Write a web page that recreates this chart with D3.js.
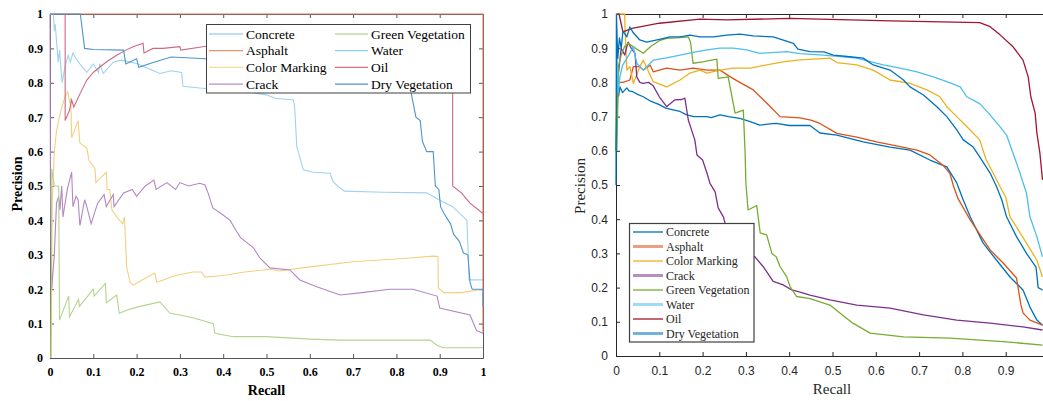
<!DOCTYPE html>
<html><head><meta charset="utf-8">
<script src="https://cdn.jsdelivr.net/npm/d3@7"></script>
<style>body{margin:0;background:#fff}svg{display:block}</style>
</head><body>
<svg id="c" width="1043" height="401"></svg>
<script>
// ---------- shared data ----------
const categories = ["Concrete","Asphalt","Color Marking","Crack","Green Vegetation","Water","Oil","Dry Vegetation"];
const xTicksLeft = [0,0.1,0.2,0.3,0.4,0.5,0.6,0.7,0.8,0.9,1];
const yTicksLeft = [0,0.1,0.2,0.3,0.4,0.5,0.6,0.7,0.8,0.9,1];
const xTicksRight = [0,0.1,0.2,0.3,0.4,0.5,0.6,0.7,0.8,0.9];
const yTicksRight = [0,0.1,0.2,0.3,0.4,0.5,0.6,0.7,0.8,0.9,1];

// ---------- left panel series: [recall, precision] ----------
const leftConcrete = [[0.008,1],[0.01,0.95],[0.012,0.97],[0.019,0.86],[0.022,0.895],[0.028,0.8],[0.035,0.85],[0.042,0.88],[0.047,0.86],[0.053,0.887],[0.06,0.87],[0.069,0.855],[0.085,0.83],[0.1,0.855],[0.112,0.83],[0.115,0.855],[0.123,0.827],[0.146,0.86],[0.165,0.866],[0.2,0.856],[0.23,0.84],[0.254,0.827],[0.28,0.835],[0.304,0.83],[0.307,0.79],[0.346,0.785],[0.4,0.78],[0.45,0.775],[0.5,0.765],[0.52,0.755],[0.562,0.75],[0.565,0.73],[0.57,0.614],[0.585,0.547],[0.608,0.54],[0.647,0.537],[0.654,0.512],[0.67,0.494],[0.68,0.485],[0.77,0.482],[0.87,0.48],[0.898,0.46],[0.93,0.44],[0.963,0.4],[0.968,0.227],[1,0.227]];
const leftAsphalt = [[0,1],[1,1],[1,0.075]];
const leftColorMarking = [[0.003,0],[0.005,0.45],[0.01,0.6],[0.015,0.66],[0.025,0.72],[0.035,0.76],[0.041,0.774],[0.046,0.74],[0.048,0.755],[0.05,0.64],[0.065,0.69],[0.069,0.625],[0.085,0.61],[0.09,0.575],[0.104,0.55],[0.106,0.51],[0.13,0.54],[0.132,0.49],[0.138,0.49],[0.143,0.43],[0.157,0.405],[0.168,0.39],[0.172,0.41],[0.177,0.265],[0.185,0.22],[0.192,0.212],[0.242,0.247],[0.247,0.22],[0.29,0.24],[0.33,0.25],[0.35,0.25],[0.358,0.235],[0.4,0.24],[0.45,0.25],[0.508,0.258],[0.53,0.253],[0.6,0.265],[0.7,0.28],[0.824,0.29],[0.885,0.296],[0.896,0.295],[0.897,0.203],[0.91,0.19],[0.95,0.19],[1,0.2]];
const leftCrack = [[0,1],[0.001,0.5],[0.004,0.2],[0.01,0.3],[0.015,0.45],[0.02,0.47],[0.023,0.43],[0.027,0.5],[0.03,0.41],[0.04,0.49],[0.05,0.54],[0.053,0.44],[0.06,0.47],[0.065,0.46],[0.069,0.385],[0.08,0.46],[0.085,0.44],[0.095,0.39],[0.11,0.45],[0.125,0.475],[0.13,0.44],[0.146,0.475],[0.148,0.44],[0.17,0.48],[0.19,0.49],[0.2,0.47],[0.22,0.5],[0.24,0.517],[0.245,0.49],[0.27,0.51],[0.29,0.49],[0.3,0.51],[0.32,0.5],[0.346,0.508],[0.358,0.503],[0.365,0.48],[0.376,0.436],[0.395,0.42],[0.416,0.4],[0.43,0.37],[0.44,0.35],[0.47,0.32],[0.485,0.29],[0.508,0.262],[0.554,0.256],[0.577,0.227],[0.616,0.207],[0.67,0.183],[0.72,0.19],[0.785,0.2],[0.838,0.2],[0.894,0.18],[0.9,0.145],[0.97,0.125],[0.985,0.08],[1,0.072]];
const leftGreenVegetation = [[0.002,0],[0.004,0.55],[0.01,0.5],[0.02,0.5],[0.022,0.11],[0.043,0.18],[0.045,0.12],[0.066,0.17],[0.068,0.15],[0.1,0.2],[0.102,0.18],[0.128,0.217],[0.13,0.16],[0.154,0.183],[0.16,0.13],[0.18,0.14],[0.208,0.15],[0.254,0.163],[0.277,0.13],[0.3,0.125],[0.33,0.117],[0.377,0.1],[0.381,0.072],[0.423,0.062],[0.5,0.062],[0.6,0.055],[0.67,0.052],[0.878,0.052],[0.894,0.037],[0.908,0.03],[1,0.03]];
const leftWater = [[0,1],[0.008,1]];
const leftOil = [[0.035,1],[0.035,0.69],[0.045,0.72],[0.05,0.75],[0.055,0.73],[0.07,0.77],[0.085,0.808],[0.1,0.83],[0.115,0.846],[0.135,0.865],[0.154,0.88],[0.175,0.895],[0.192,0.905],[0.215,0.915],[0.217,0.887],[0.238,0.9],[0.261,0.9],[0.3,0.905],[0.302,0.895],[0.353,0.905],[0.4,0.91],[0.6,0.91],[0.8,0.905],[0.93,0.9],[0.93,0.5],[0.95,0.48],[0.97,0.45],[1,0.42]];
const leftDryVegetation = [[0,1],[0.07,1],[0.08,0.9],[0.1,0.897],[0.17,0.895],[0.175,0.855],[0.2,0.87],[0.205,0.845],[0.24,0.86],[0.28,0.875],[0.36,0.87],[0.5,0.87],[0.7,0.87],[0.8,0.86],[0.825,0.84],[0.835,0.765],[0.845,0.7],[0.855,0.69],[0.86,0.63],[0.87,0.6],[0.885,0.6],[0.89,0.5],[0.898,0.49],[0.902,0.44],[0.91,0.42],[0.925,0.39],[0.932,0.36],[0.945,0.34],[0.955,0.305],[0.965,0.3],[0.97,0.22],[0.975,0.2],[1,0.2],[1,0.15]];

// ---------- right panel series ----------
const rightConcrete = [[0,0.6],[0.003,0.82],[0.006,0.76],[0.009,0.787],[0.015,0.77],[0.025,0.784],[0.03,0.775],[0.04,0.772],[0.05,0.765],[0.063,0.758],[0.08,0.745],[0.1,0.735],[0.115,0.725],[0.132,0.72],[0.148,0.715],[0.163,0.705],[0.18,0.7],[0.194,0.7],[0.21,0.7],[0.22,0.697],[0.24,0.705],[0.26,0.7],[0.286,0.695],[0.31,0.685],[0.332,0.675],[0.35,0.678],[0.37,0.68],[0.4,0.674],[0.448,0.674],[0.471,0.652],[0.51,0.646],[0.571,0.626],[0.633,0.611],[0.679,0.602],[0.725,0.573],[0.764,0.553],[0.787,0.506],[0.802,0.456],[0.818,0.407],[0.848,0.33],[0.879,0.28],[0.91,0.231],[0.94,0.193],[0.956,0.143],[0.972,0.105],[0.985,0.09]];
const rightAsphalt = [[0.001,0.69],[0.003,0.72],[0.005,0.8],[0.016,0.8],[0.032,0.807],[0.04,0.846],[0.055,0.846],[0.063,0.836],[0.079,0.85],[0.086,0.831],[0.1,0.836],[0.117,0.842],[0.148,0.836],[0.178,0.842],[0.21,0.836],[0.24,0.836],[0.263,0.817],[0.286,0.8],[0.317,0.778],[0.348,0.74],[0.379,0.7],[0.425,0.696],[0.45,0.69],[0.471,0.68],[0.51,0.651],[0.556,0.64],[0.602,0.626],[0.656,0.612],[0.695,0.602],[0.725,0.588],[0.755,0.558],[0.771,0.534],[0.78,0.495],[0.79,0.46],[0.818,0.398],[0.864,0.31],[0.894,0.272],[0.925,0.228],[0.935,0.15],[0.94,0.126],[0.956,0.105],[0.985,0.09]];
const rightColorMarking = [[0.004,1],[0.02,1],[0.021,0.953],[0.025,0.836],[0.032,0.846],[0.04,0.797],[0.055,0.846],[0.063,0.865],[0.086,0.802],[0.117,0.787],[0.148,0.807],[0.17,0.827],[0.194,0.836],[0.21,0.827],[0.24,0.836],[0.271,0.842],[0.31,0.842],[0.348,0.851],[0.386,0.86],[0.425,0.866],[0.494,0.871],[0.51,0.858],[0.556,0.851],[0.594,0.836],[0.633,0.807],[0.679,0.797],[0.718,0.778],[0.748,0.758],[0.764,0.729],[0.787,0.7],[0.818,0.661],[0.84,0.632],[0.855,0.573],[0.871,0.535],[0.887,0.495],[0.9,0.465],[0.91,0.407],[0.925,0.377],[0.948,0.33],[0.972,0.28],[0.985,0.231]];
const rightCrack = [[0.005,0.82],[0.012,0.9],[0.02,0.88],[0.028,0.918],[0.035,0.9],[0.044,0.885],[0.048,0.816],[0.055,0.8],[0.063,0.797],[0.075,0.8],[0.086,0.79],[0.1,0.758],[0.117,0.729],[0.136,0.749],[0.152,0.75],[0.159,0.754],[0.167,0.69],[0.182,0.632],[0.187,0.588],[0.2,0.573],[0.21,0.535],[0.217,0.505],[0.229,0.48],[0.236,0.433],[0.248,0.407],[0.256,0.368],[0.27,0.34],[0.29,0.31],[0.321,0.29],[0.34,0.261],[0.363,0.218],[0.386,0.208],[0.406,0.193],[0.425,0.187],[0.448,0.178],[0.494,0.164],[0.556,0.149],[0.633,0.14],[0.71,0.12],[0.787,0.105],[0.864,0.096],[0.94,0.085],[0.985,0.076]];
const rightGreenVegetation = [[0.002,0.6],[0.006,0.85],[0.012,0.88],[0.02,0.905],[0.028,0.914],[0.063,0.885],[0.08,0.905],[0.1,0.922],[0.117,0.929],[0.14,0.93],[0.167,0.933],[0.172,0.918],[0.178,0.856],[0.2,0.86],[0.233,0.868],[0.236,0.812],[0.259,0.816],[0.275,0.71],[0.294,0.719],[0.298,0.6],[0.3,0.505],[0.305,0.427],[0.325,0.44],[0.333,0.36],[0.348,0.354],[0.36,0.3],[0.37,0.29],[0.379,0.261],[0.394,0.232],[0.402,0.203],[0.417,0.174],[0.448,0.168],[0.494,0.149],[0.517,0.126],[0.547,0.096],[0.587,0.067],[0.664,0.056],[0.771,0.052],[0.894,0.042],[0.985,0.032]];
const rightWater = [[0.002,0.9],[0.005,0.77],[0.009,0.816],[0.015,0.85],[0.025,0.87],[0.04,0.904],[0.048,0.856],[0.063,0.836],[0.086,0.865],[0.117,0.872],[0.148,0.88],[0.178,0.888],[0.21,0.895],[0.24,0.9],[0.271,0.9],[0.302,0.895],[0.332,0.885],[0.36,0.887],[0.394,0.89],[0.425,0.884],[0.479,0.88],[0.556,0.871],[0.617,0.851],[0.656,0.842],[0.695,0.831],[0.733,0.816],[0.764,0.802],[0.795,0.787],[0.81,0.758],[0.84,0.738],[0.864,0.705],[0.887,0.67],[0.902,0.646],[0.917,0.593],[0.933,0.535],[0.948,0.476],[0.956,0.407],[0.972,0.349],[0.985,0.29]];
const rightOil = [[0.003,1],[0.007,1],[0.016,0.948],[0.037,0.958],[0.1,0.973],[0.194,0.985],[0.256,0.983],[0.402,0.987],[0.494,0.984],[0.633,0.98],[0.84,0.975],[0.864,0.963],[0.887,0.939],[0.917,0.904],[0.94,0.865],[0.952,0.816],[0.958,0.758],[0.968,0.71],[0.972,0.652],[0.979,0.593],[0.985,0.515]];
const rightDryVegetation = [[0,0.5],[0.001,1],[0.004,0.87],[0.008,0.93],[0.012,0.9],[0.016,0.95],[0.025,0.933],[0.032,0.962],[0.04,0.945],[0.055,0.924],[0.071,0.918],[0.1,0.926],[0.125,0.933],[0.148,0.933],[0.171,0.938],[0.194,0.933],[0.225,0.933],[0.256,0.938],[0.286,0.941],[0.317,0.936],[0.363,0.933],[0.41,0.914],[0.42,0.897],[0.448,0.89],[0.48,0.889],[0.502,0.88],[0.54,0.875],[0.571,0.871],[0.594,0.851],[0.633,0.836],[0.664,0.807],[0.679,0.787],[0.71,0.763],[0.741,0.729],[0.764,0.7],[0.787,0.661],[0.802,0.632],[0.825,0.611],[0.84,0.582],[0.864,0.535],[0.879,0.495],[0.891,0.456],[0.902,0.407],[0.925,0.349],[0.948,0.3],[0.97,0.26],[0.975,0.2],[0.985,0.193]];

const leftSeries = [leftConcrete,leftAsphalt,leftColorMarking,leftCrack,leftGreenVegetation,leftWater,leftOil,leftDryVegetation];
const rightSeries = [rightConcrete,rightAsphalt,rightColorMarking,rightCrack,rightGreenVegetation,rightWater,rightOil,rightDryVegetation];

const leftColors = ["#9ed2ef","#d9765e","#f4cf80","#b287c3","#b3d48e","#7fcbef","#cc6a84","#4f95cd"];
const rightColors = ["#0072BD","#D95319","#EDB120","#7E2F8E","#77AC30","#4DBEEE","#A2142F","#0072BD"];
const leftLegendColors = ["#a6d5ef","#e8946e","#f7dc9c","#b58cc6","#c2dca6","#86cdef","#cf7488","#4f95cd"];

// ---------- drawing ----------
const svg = d3.select("#c");
const serif = "'Liberation Serif','Times New Roman',serif";
const sans = "'Liberation Sans',Arial,Helvetica,sans-serif";
const fmt = d => String(+d.toFixed(1));

// LEFT PANEL
const xL = d3.scaleLinear().domain([0,1]).range([50,483]);
const yL = d3.scaleLinear().domain([0,1]).range([358,14]);
const gL = svg.append("g");
const lineL = d3.line().x(d=>xL(d[0])).y(d=>yL(d[1]));

function styleAxis(g, color, font, size, weight){
  g.selectAll(".domain").attr("stroke",color);
  g.selectAll(".tick line").attr("stroke",color);
  g.selectAll("text").attr("fill","#000").style("font-family",font).style("font-size",size+"px").style("font-weight",weight);
}
const axL = [
  gL.append("g").attr("transform",`translate(0,${yL(0)})`).call(d3.axisBottom(xL).tickValues(xTicksLeft).tickSize(-4).tickSizeOuter(0).tickPadding(9).tickFormat(fmt)),
  gL.append("g").attr("transform",`translate(${xL(0)},0)`).call(d3.axisLeft(yL).tickValues(yTicksLeft).tickSize(-4).tickSizeOuter(0).tickPadding(7).tickFormat(fmt)),
  gL.append("g").attr("transform",`translate(0,${yL(1)})`).call(d3.axisTop(xL).tickValues(xTicksLeft).tickSize(-4).tickSizeOuter(0).tickFormat("")),
  gL.append("g").attr("transform",`translate(${xL(1)},0)`).call(d3.axisRight(yL).tickValues(yTicksLeft).tickSize(-4).tickSizeOuter(0).tickFormat(""))
];
axL.forEach(a=>styleAxis(a,"#555",serif,12,"bold"));

gL.selectAll("path.ser").data(leftSeries).join("path").attr("class","ser")
  .attr("d",lineL).attr("fill","none").attr("stroke",(d,i)=>leftColors[i]).attr("stroke-width",1.1);

gL.append("text").attr("transform",`translate(22,184) rotate(-90)`).attr("text-anchor","middle")
  .style("font-family",serif).style("font-size","14px").style("font-weight","bold").text("Precision");
gL.append("text").attr("x",266.5).attr("y",395).attr("text-anchor","middle")
  .style("font-family",serif).style("font-size","14px").style("font-weight","bold").text("Recall");

// left legend
const legL = gL.append("g");
legL.append("rect").attr("x",206.5).attr("y",24.5).attr("width",264).attr("height",68.5).attr("fill","#fff").attr("stroke","#404040").attr("stroke-width",1);
categories.forEach((c,i)=>{
  const col = Math.floor(i/4), row = i%4;
  const lx = col===0 ? 209 : 335, lw = col===0 ? 34 : 33;
  const cy = 34 + row*16.7;
  legL.append("line").attr("x1",lx).attr("x2",lx+lw).attr("y1",cy).attr("y2",cy).attr("stroke",leftLegendColors[i]).attr("stroke-width",1.3);
  legL.append("text").attr("x",lx+lw+3).attr("y",cy).attr("dy","0.35em")
    .style("font-family",serif).style("font-size","13.5px").text(c);
});

// RIGHT PANEL
const xR = d3.scaleLinear().domain([0,1]).range([616,1049]);
const yR = d3.scaleLinear().domain([0,1]).range([356,14]);
const gR = svg.append("g");
const lineR = d3.line().x(d=>xR(d[0])).y(d=>yR(d[1]));
const axR = [
  gR.append("g").attr("transform",`translate(0,${yR(0)})`).call(d3.axisBottom(xR).tickValues(xTicksRight).tickSize(-4).tickSizeOuter(0).tickPadding(10).tickFormat(fmt)),
  gR.append("g").attr("transform",`translate(${xR(0)},0)`).call(d3.axisLeft(yR).tickValues(yTicksRight).tickSize(-4).tickSizeOuter(0).tickPadding(8).tickFormat(fmt)),
  gR.append("g").attr("transform",`translate(0,${yR(1)})`).call(d3.axisTop(xR).tickValues(xTicksRight).tickSize(-4).tickSizeOuter(0).tickFormat(""))
];
axR.forEach(a=>{styleAxis(a,"#262626",sans,12,"normal"); a.selectAll("text").attr("fill","#262626");});

gR.selectAll("path.ser").data(rightSeries).join("path").attr("class","ser")
  .attr("d",lineR).attr("fill","none").attr("stroke",(d,i)=>rightColors[i]).attr("stroke-width",1.3).attr("stroke-linejoin","round");

gR.append("text").attr("transform",`translate(585,186) rotate(-90)`).attr("text-anchor","middle")
  .style("font-family",serif).style("font-size","15px").attr("fill","#262626").text("Precision");
gR.append("text").attr("x",832).attr("y",394).attr("text-anchor","middle")
  .style("font-family",serif).style("font-size","15px").attr("fill","#262626").text("Recall");

// right legend
const legR = gR.append("g");
legR.append("rect").attr("x",629.5).attr("y",223.5).attr("width",124.5).attr("height",118.5).attr("fill","#fff").attr("stroke","#404040").attr("stroke-width",1.2);
const thick = [false,true,false,true,false,true,false,true];
categories.forEach((c,i)=>{
  const cy = 232 + i*14.5;
  legR.append("line").attr("x1",633).attr("x2",663).attr("y1",cy).attr("y2",cy)
    .attr("stroke",rightColors[i]).attr("stroke-width",thick[i]?3:1.3).attr("stroke-opacity",thick[i]?0.55:1);
  legR.append("text").attr("x",666).attr("y",cy).attr("dy","0.35em")
    .style("font-family",serif).style("font-size","12px").attr("fill","#262626").text(c);
});
</script>
</body></html>
